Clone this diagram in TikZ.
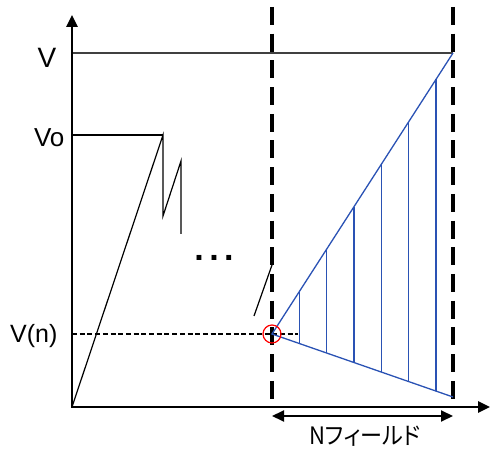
\documentclass[tikz,border=0pt]{standalone}
\usepackage{fontspec}
\setmainfont{Liberation Sans}
\newfontfamily\jpfont[RawFeature=+palt, FakeStretch=0.92]{Noto Sans CJK JP}
\usetikzlibrary{calc,arrows.meta}
\definecolor{LineBlue}{HTML}{2A52B4}
\definecolor{LevelGray}{HTML}{404040}
\begin{document}
\begin{tikzpicture}[x=1pt,y=1pt, line width=1.2pt,
  every node/.style={font=\fontsize{26}{30}\selectfont, inner sep=0pt},
  >={Triangle[length=12pt,width=11pt]},
  fieldline/.style={line width=4pt, dash pattern=on 18pt off 8.7pt},
  blueline/.style={LineBlue, line width=1.3pt}]
  \useasboundingbox (0,0) rectangle (490,455);
  \coordinate (O) at (72,48);
  \coordinate (ytop) at (72,440);
  \coordinate (xend) at (490,48);
  \coordinate (vlev) at (72,402);
  \coordinate (volev) at (72,320);
  \coordinate (vnlev) at (72,121);
  \coordinate (peak) at (163,320);
  \coordinate (A) at (272,121);
  \coordinate (T) at (453,402);
  \coordinate (B) at (453,58);
  \coordinate (nl) at (272,39);
  \coordinate (nr) at (453,39);
  \foreach \x in {272,453}
    \draw[fieldline] (\x,448) -- (\x,48);
  \draw[LevelGray] (vlev) -- (T);
  \draw (volev) -- (peak);
  \draw (O) -- (peak) -- (163,239) -- (181,294) -- (181,221);
  \draw (254,139) -- (272,190);
  \draw[line width=2pt, dash pattern=on 5pt off 2.7pt] (vnlev) -- (298,121);
  \draw[blueline] (T) -- (A) -- (B);
  \foreach \k in {1,...,6}
    \draw[blueline] ($(A)!\k*0.151!(B)$) -- ($(A)!\k*0.151!(T)$);
  \node[draw=red, circle, minimum size=18pt, line width=1.2pt] (mark) at (A) {};
  \draw[line width=2.5pt, <->] (ytop) -- (O) -- (xend);
  \draw[line width=2pt, <->] (nl) -- (nr);
  \node[anchor=base east, font=\fontsize{28}{32}\selectfont] (lv) at (57,387) {V};
  \node[anchor=base east] (lvo) at (65,308) {Vo};
  \node[anchor=base east, font=\fontsize{25}{30}\selectfont] (lvn) at (58,112) {V(n)};
  \node[anchor=base, font=\fontsize{34}{38}\selectfont\bfseries] (dots) at (214,194) {.\hspace{5.5pt}.\hspace{5.5pt}.};
  \node[anchor=base, font=\fontsize{24}{28}\selectfont] (lnf) at (365,10) {\jpfont Nフィールド};
\end{tikzpicture}
\end{document}
